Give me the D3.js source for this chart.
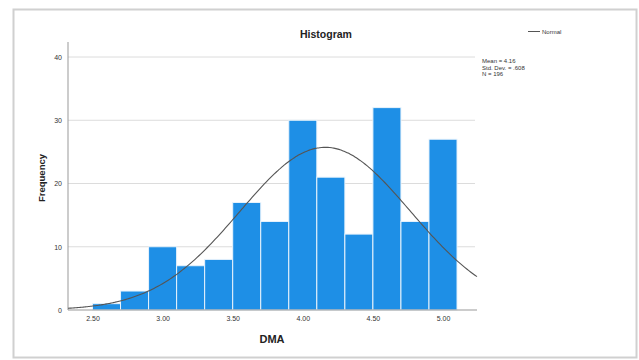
<!DOCTYPE html>
<html><head><meta charset="utf-8">
<script src="https://cdn.jsdelivr.net/npm/d3@7"></script>
<style>body{margin:0;background:#fff}svg{display:block;font-family:"Liberation Sans",Arial,sans-serif}</style>
</head><body><svg id="c" width="639" height="360"></svg>
<script>
const binStarts = [2.5,2.7,2.9,3.1,3.3,3.5,3.7,3.9,4.1,4.3,4.5,4.7,4.9];
const counts    = [1,3,10,7,8,17,14,30,21,12,32,14,27];
const xTicks = [2.5,3.0,3.5,4.0,4.5,5.0];
const yTicks = [0,10,20,30,40];
const mean = 4.16, sd = 0.608, N = 196, binW = 0.2;
const statLines = ["Mean = 4.16","Std. Dev. = .608","N = 196"];

const svg = d3.select("#c");
// frame
svg.append("rect").attr("x",13.5).attr("y",9.5).attr("width",623).attr("height",348)
  .attr("fill","#fff").attr("stroke","#d0d0d0").attr("stroke-width",2);

const x = d3.scaleLinear().domain([2.5,5.0]).range([92.5,443]);
const y = d3.scaleLinear().domain([0,40]).range([310,57]);
const xL = x.invert(68), xR = x.invert(477);

// gridlines
svg.append("g").selectAll("line").data(yTicks.filter(d=>d>0)).join("line")
  .attr("x1",68).attr("x2",475).attr("y1",d=>y(d)).attr("y2",d=>y(d))
  .attr("stroke","#dcdcdc").attr("stroke-width",1);

// bars
svg.append("g").selectAll("rect").data(binStarts).join("rect")
  .attr("x",d=>x(d)).attr("width",d=>x(d+binW)-x(d))
  .attr("y",(d,i)=>y(counts[i])).attr("height",(d,i)=>y(0)-y(counts[i]))
  .attr("fill","#1e8fe6").attr("stroke","#e8f3fc").attr("stroke-width",1);

// axes
const ya = d3.axisLeft(y).tickValues(yTicks).tickSize(0).tickPadding(6);
const yg = svg.append("g").attr("transform","translate(68,0)").call(ya);
yg.select(".domain").remove();
yg.selectAll("text").attr("font-size",7).attr("fill","#333").attr("font-family","Liberation Sans, Arial");
svg.append("line").attr("x1",68).attr("x2",68).attr("y1",42).attr("y2",310).attr("stroke","#999");

const xa = d3.axisBottom(x).tickValues(xTicks).tickFormat(d3.format(".2f")).tickSize(0).tickPadding(6);
const xg = svg.append("g").attr("transform","translate(0,310)").call(xa);
xg.select(".domain").remove();
xg.selectAll("text").attr("font-size",7).attr("fill","#333").attr("font-family","Liberation Sans, Arial");
svg.append("line").attr("x1",68).attr("x2",477).attr("y1",310).attr("y2",310).attr("stroke","#999");

// normal curve
const pts = d3.range(0,201).map(i=>{const v=xL+(xR-xL)*i/200;
  return [v, N*binW/(sd*Math.sqrt(2*Math.PI))*Math.exp(-0.5*((v-mean)/sd)**2)];});
svg.append("path").datum(pts).attr("fill","none").attr("stroke","#555").attr("stroke-width",1.1)
  .attr("d",d3.line().x(d=>x(d[0])).y(d=>y(d[1])).curve(d3.curveBasis));

// texts
svg.append("text").attr("x",326).attr("y",38).attr("text-anchor","middle")
  .attr("font-size",10.5).attr("font-weight","bold").attr("fill","#222").text("Histogram");
svg.append("line").attr("x1",528).attr("x2",540).attr("y1",31.5).attr("y2",31.5).attr("stroke","#555");
svg.append("text").attr("x",542).attr("y",34).attr("font-size",6).attr("fill","#333").text("Normal");
svg.append("g").selectAll("text").data(statLines).join("text")
  .attr("x",482).attr("y",(d,i)=>63+i*6.5).attr("font-size",6).attr("fill","#333").text(d=>d);
svg.append("text").attr("transform","translate(45,178) rotate(-90)").attr("text-anchor","middle")
  .attr("font-size",9.5).attr("font-weight","bold").attr("fill","#222").text("Frequency");
svg.append("text").attr("x",272).attr("y",343).attr("text-anchor","middle")
  .attr("font-size",11).attr("font-weight","bold").attr("fill","#222").text("DMA");
</script></body></html>
